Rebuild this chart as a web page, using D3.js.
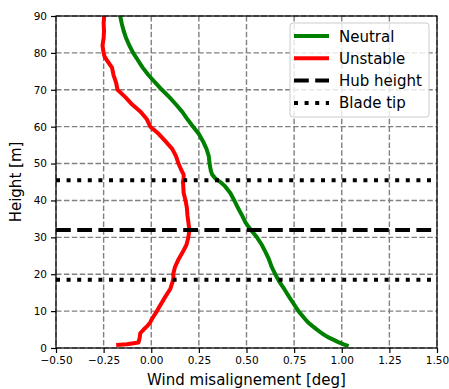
<!DOCTYPE html>
<html>
<head>
<meta charset="utf-8">
<script src="https://cdn.jsdelivr.net/npm/d3@7"></script>
<style>
  body { margin: 0; background: #fff; }
  text { font-family: "DejaVu Sans", sans-serif; fill: #000; }
</style>
</head>
<body>
<div id="chart"></div>
<script>
// wind misalignment profiles vs height, neutral and unstable cases
const heightsNeutral = [0.5, 1, 1.5, 2, 3, 4, 5, 6, 7, 8, 10, 12, 14, 16, 18, 20, 22, 24, 26, 28, 30,
    32, 34, 36, 38, 40, 42, 44, 45, 46, 47, 48, 50, 52, 54, 56, 58, 60, 62, 64, 66, 68, 70,
    72, 74, 76, 78, 80, 82, 84, 86, 88, 90];
const neutral = [1.036, 1.01, 0.985, 0.966, 0.925, 0.895, 0.87, 0.845, 0.822, 0.805, 0.773, 0.747,
    0.722, 0.698, 0.672, 0.651, 0.632, 0.618, 0.6, 0.58, 0.555, 0.523, 0.495, 0.476, 0.455, 0.436,
    0.415, 0.385, 0.362, 0.336, 0.32, 0.313, 0.306, 0.302, 0.29, 0.272, 0.25, 0.22, 0.19, 0.163,
    0.13, 0.095, 0.056, 0.02, -0.015, -0.045, -0.07, -0.095, -0.115, -0.132, -0.145, -0.155, -0.163];

const heightsUnstable = [0.8, 1, 1.5, 2, 3, 4, 5, 6, 7, 8, 10, 12, 14, 16, 18, 19, 20, 22, 24, 26,
    28, 30, 32, 34, 36, 38, 40, 42, 44, 45, 46, 47, 48, 50, 52, 54, 56, 58, 60, 62, 64, 66, 68,
    70, 72, 74, 76, 78, 79, 80, 82, 84, 86, 88, 90];
const unstable = [-0.184, -0.128, -0.067, -0.064, -0.06, -0.058, -0.04, -0.02, -0.005, 0.005, 0.03,
    0.052, 0.075, 0.1, 0.112, 0.117, 0.115, 0.125, 0.143, 0.165, 0.185, 0.195, 0.2, 0.195, 0.19,
    0.187, 0.18, 0.17, 0.168, 0.166, 0.17, 0.17, 0.16, 0.143, 0.13, 0.11, 0.075, 0.04, -0.005,
    -0.023, -0.055, -0.1, -0.136, -0.177, -0.185, -0.198, -0.206, -0.233, -0.245, -0.25, -0.256,
    -0.25, -0.248, -0.25, -0.247];

const hubHeight = 32;
const bladeTips = [18.5, 45.5];

const xTicks = [-0.5, -0.25, 0, 0.25, 0.5, 0.75, 1, 1.25, 1.5];
const yTicks = [0, 10, 20, 30, 40, 50, 60, 70, 80, 90];

const legendLabels = ["Neutral", "Unstable", "Hub height", "Blade tip"];

const W = 449, H = 389;
const margin = { top: 16, right: 12, bottom: 41, left: 56 };
const width = W - margin.left - margin.right;
const height = H - margin.top - margin.bottom;

const svg = d3.select("#chart").append("svg")
    .attr("width", W)
    .attr("height", H);

const g = svg.append("g")
    .attr("transform", `translate(${margin.left},${margin.top})`);

const x = d3.scaleLinear().domain([-0.5, 1.5]).range([0, width]);
const y = d3.scaleLinear().domain([0, 90]).range([height, 0]);

// grid
g.append("g").selectAll("line").data(xTicks).join("line")
    .attr("x1", d => x(d)).attr("x2", d => x(d))
    .attr("y1", 0).attr("y2", height)
    .attr("stroke", "#808080").attr("stroke-width", 1.4)
    .attr("stroke-dasharray", "5.5,2.4");
g.append("g").selectAll("line").data(yTicks).join("line")
    .attr("x1", 0).attr("x2", width)
    .attr("y1", d => y(d)).attr("y2", d => y(d))
    .attr("stroke", "#808080").attr("stroke-width", 1.4)
    .attr("stroke-dasharray", "5.5,2.4");

// profiles
const lineN = d3.line().x((d, i) => x(neutral[i])).y(d => y(d));
const lineU = d3.line().x((d, i) => x(unstable[i])).y(d => y(d));

g.append("path").datum(heightsNeutral)
    .attr("fill", "none").attr("stroke", "green")
    .attr("stroke-width", 4).attr("stroke-linejoin", "round")
    .attr("d", lineN);
g.append("path").datum(heightsUnstable)
    .attr("fill", "none").attr("stroke", "red")
    .attr("stroke-width", 4).attr("stroke-linejoin", "round")
    .attr("d", lineU);

// hub and blade tip lines
g.append("line")
    .attr("x1", 0).attr("x2", width)
    .attr("y1", y(hubHeight)).attr("y2", y(hubHeight))
    .attr("stroke", "#000").attr("stroke-width", 4)
    .attr("stroke-dasharray", "14.8,6.4");
g.append("g").selectAll("line").data(bladeTips).join("line")
    .attr("x1", 0).attr("x2", width)
    .attr("y1", d => y(d)).attr("y2", d => y(d))
    .attr("stroke", "#000").attr("stroke-width", 4)
    .attr("stroke-dasharray", "4,6.6");

// axes
const xAxis = g.append("g")
    .attr("transform", `translate(0,${height})`)
    .call(d3.axisBottom(x).tickValues(xTicks).tickFormat(d3.format(".2f"))
        .tickSize(5).tickPadding(4));
const yAxis = g.append("g")
    .call(d3.axisLeft(y).tickValues(yTicks).tickFormat(d3.format("d"))
        .tickSize(5).tickPadding(4));
[xAxis, yAxis].forEach(a => {
    a.select(".domain").remove();
    a.selectAll("line").attr("stroke", "#000").attr("stroke-width", 1.2);
    a.selectAll("text").style("font-size", "10.5px")
        .style("font-family", "DejaVu Sans").attr("fill", "#000");
});

// frame
g.append("rect")
    .attr("width", width).attr("height", height)
    .attr("fill", "none").attr("stroke", "#000").attr("stroke-width", 1.2);

// axis labels
svg.append("text")
    .attr("x", margin.left + width / 2).attr("y", 385)
    .attr("text-anchor", "middle").style("font-size", "15px")
    .text("Wind misalignement [deg]");
svg.append("text")
    .attr("transform", `translate(21,${margin.top + height / 2}) rotate(-90)`)
    .attr("text-anchor", "middle").style("font-size", "15px")
    .text("Height [m]");

// legend
const legend = svg.append("g").attr("transform", "translate(290,23)");
legend.append("rect")
    .attr("width", 139).attr("height", 94).attr("rx", 3)
    .attr("fill", "#fff").attr("fill-opacity", 0.8)
    .attr("stroke", "#ccc").attr("stroke-width", 1);
const styles = [
    { color: "green", dash: null },
    { color: "red", dash: null },
    { color: "#000", dash: "14.8,6.4" },
    { color: "#000", dash: "4,6.6" }
];
legendLabels.forEach((label, i) => {
    const row = legend.append("g").attr("transform", `translate(0,${13 + i * 22.3})`);
    row.append("line")
        .attr("x1", 4).attr("x2", 39)
        .attr("stroke", styles[i].color).attr("stroke-width", 4)
        .attr("stroke-dasharray", styles[i].dash);
    row.append("text")
        .attr("x", 49).attr("y", 5.5)
        .style("font-size", "15px")
        .text(label);
});
</script>
</body>
</html>
